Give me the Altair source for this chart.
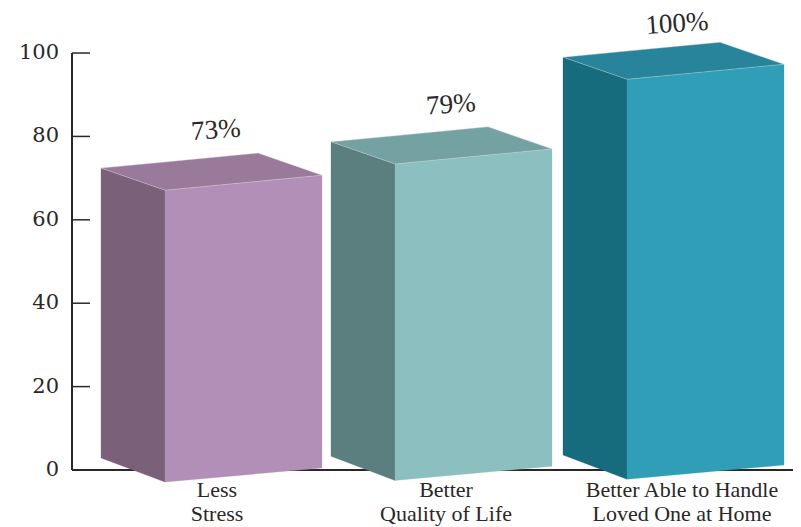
import altair as alt
import pandas as pd

categories = ["Less\nStress", "Better\nQuality of Life", "Better Able to Handle\nLoved One at Home"]
percent_labels = ["73%", "79%", "100%"]
values = [73, 79, 100]
tops = [72.4, 78.7, 99.0]
base_shift = [0.0, 0.4, 0.7]
left_edges = [101, 331, 563]
label_x = [216, 451, 677]
cat_x = [217, 446, 682]
ticks = [0, 20, 40, 60, 80, 100]
front_colors = ["#B28FB6", "#8BBFC0", "#2F9EB6"]
side_colors = ["#7A6079", "#5A7F7E", "#166B7C"]
top_colors = ["#9A7A9A", "#74A2A2", "#27849A"]

DEPTH_X, WIDTH_X = 64, 157
DROP, RISE = 5.3, 3.6
BACK_B, FRONT_L_B, FRONT_R_B = 2.9, -2.9, 0.5

x_scale = alt.Scale(domain=[8, 793], range=[0, 785], nice=False, zero=False)
y_scale = alt.Scale(domain=[-13.67, 110.8], nice=False, zero=False)
X = lambda f: alt.X(f, type="quantitative", scale=x_scale, axis=None)
Y = lambda f: alt.Y(f, type="quantitative", scale=y_scale, axis=None)

INK = "#2b2728"
layers = []

# axis
axis_df = pd.DataFrame({"x": [72], "y": [0], "y2": [100]})
layers.append(alt.Chart(axis_df).mark_rule(color=INK, strokeWidth=2).encode(x=X("x"), y=Y("y"), y2="y2"))
tick_df = pd.DataFrame({"v": ticks, "x": [72] * 6, "x2": [90] * 6, "lx": [59] * 6, "t": [str(t) for t in ticks]})
layers.append(alt.Chart(tick_df).mark_rule(color=INK, strokeWidth=1.5).encode(x=X("x"), x2="x2", y=Y("v")))
layers.append(alt.Chart(pd.DataFrame({"x": [72], "x2": [793], "v": [0]})).mark_rule(color=INK, strokeWidth=2).encode(x=X("x"), x2="x2", y=Y("v")))
layers.append(alt.Chart(tick_df).mark_text(font="DejaVu Serif", fontSize=21, align="right", baseline="middle", color=INK).encode(x=X("lx"), y=Y("v"), text="t"))


def face(rows, color, stroke, width):
    df = pd.DataFrame(rows, columns=["x", "y", "y2"])
    return alt.Chart(df).mark_area(color=color, stroke=stroke, strokeWidth=width, opacity=1).encode(x=X("x"), y=Y("y"), y2="y2")


for i in range(3):
    L, v, s = left_edges[i], tops[i], base_shift[i]
    xf, xb, xr = L + DEPTH_X, L + WIDTH_X, L + DEPTH_X + WIDTH_X
    ftl, ftr, btr = v - DROP, v - DROP + RISE, v + RISE
    layers.append(face([(L, v, BACK_B + s), (xf, ftl, FRONT_L_B + s)], side_colors[i], side_colors[i], 0.3))
    layers.append(face([(xf, ftl, FRONT_L_B + s), (xr, ftr, FRONT_R_B + s)], front_colors[i], front_colors[i], 0.3))
    upper_f = v + RISE * DEPTH_X / WIDTH_X
    lower_b = ftl + RISE * (xb - xf) / WIDTH_X
    layers.append(face([(L, v, v), (xf, upper_f, ftl), (xb, btr, lower_b), (xr, ftr, ftr)], top_colors[i], "#d8d8d8", 0.4))

pct_df = pd.DataFrame({"x": label_x, "v": [81.5, 87.6, 107.0], "t": percent_labels})
layers.append(alt.Chart(pct_df).mark_text(font="Liberation Serif", fontSize=27, angle=356, align="center", baseline="middle", color=INK).encode(x=X("x"), y=Y("v"), text="t"))

cat_df = pd.DataFrame({"x": cat_x, "v": [-2.5, -2.5, -2.5], "t": categories})
layers.append(alt.Chart(cat_df).mark_text(font="Liberation Serif", fontSize=22, lineBreak="\n", lineHeight=24, align="center", baseline="top", color=INK).encode(x=X("x"), y=Y("v"), text="t"))

chart = alt.layer(*layers).properties(
    width=785, height=519, padding=0,
    autosize=alt.AutoSizeParams(type="none", contains="padding"),
    background="#ffffff",
).configure_view(stroke=None)

chart.save("out.html", embed_options={"renderer": "svg", "actions": False})
